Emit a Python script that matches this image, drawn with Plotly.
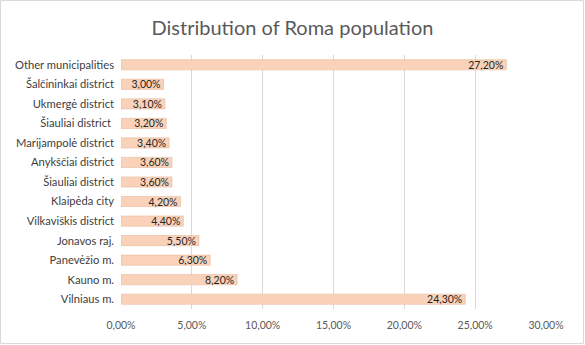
import plotly.graph_objects as go

categories = ["Vilniaus m.", "Kauno m.", "Panevėžio m.", "Jonavos raj.", "Vilkaviškis district",
              "Klaipėda city", "Šiauliai district", "Anykščiai district", "Marijampolė district",
              "Šiauliai district ", "Ukmergė district", "Šalčininkai district", "Other municipalities"]
values = [0.243, 0.082, 0.063, 0.055, 0.044, 0.042, 0.036, 0.036, 0.034, 0.032, 0.031, 0.030, 0.272]
tick_vals = [0, 0.05, 0.10, 0.15, 0.20, 0.25, 0.30]

fig = go.Figure(go.Bar(
    y=categories, x=values, orientation="h",
    marker=dict(color="#f9d2b9", line=dict(color="#e9b89a", width=0.6)),
    texttemplate="%{x:.2%}", textposition="inside", insidetextanchor="end",
    textfont=dict(family="Lato", size=10.5, color="#262626"),
    cliponaxis=False,
))

W, H = 425, 254
fig.update_layout(
    width=585, height=345,
    margin=dict(l=121, r=39, t=55, b=36),
    paper_bgcolor="white", plot_bgcolor="white",
    separators=", ",
    uniformtext=dict(minsize=10.5, mode="show"),
    title=dict(text="Distribution of Roma population", x=0.5, xanchor="center",
               y=0.92, yanchor="middle",
               font=dict(family="Lato", size=20, color="#595959")),
    bargap=0.48,
    showlegend=False,
    xaxis=dict(range=[0, 0.30], tickvals=tick_vals, tickformat=".2%",
               showgrid=True, gridcolor="#d9d9d9", gridwidth=1,
               zeroline=False, showline=False, ticklabelstandoff=8,
               tickfont=dict(family="Lato", size=10.5, color="#595959")),
    yaxis=dict(categoryorder="array", categoryarray=categories,
               showgrid=False, showline=False, ticks="", ticklabelstandoff=6,
               tickfont=dict(family="Lato", size=11.2, color="#404040")),
    shapes=[dict(type="rect", xref="paper", yref="paper",
                 x0=(-121 + 0.5) / W, x1=1 + (39 - 1.5) / W,
                 y0=(-36 + 1.5) / H, y1=1 + (55 - 0.5) / H,
                 line=dict(color="#d9d9d9", width=1))],
)
fig.write_html("out.html")
